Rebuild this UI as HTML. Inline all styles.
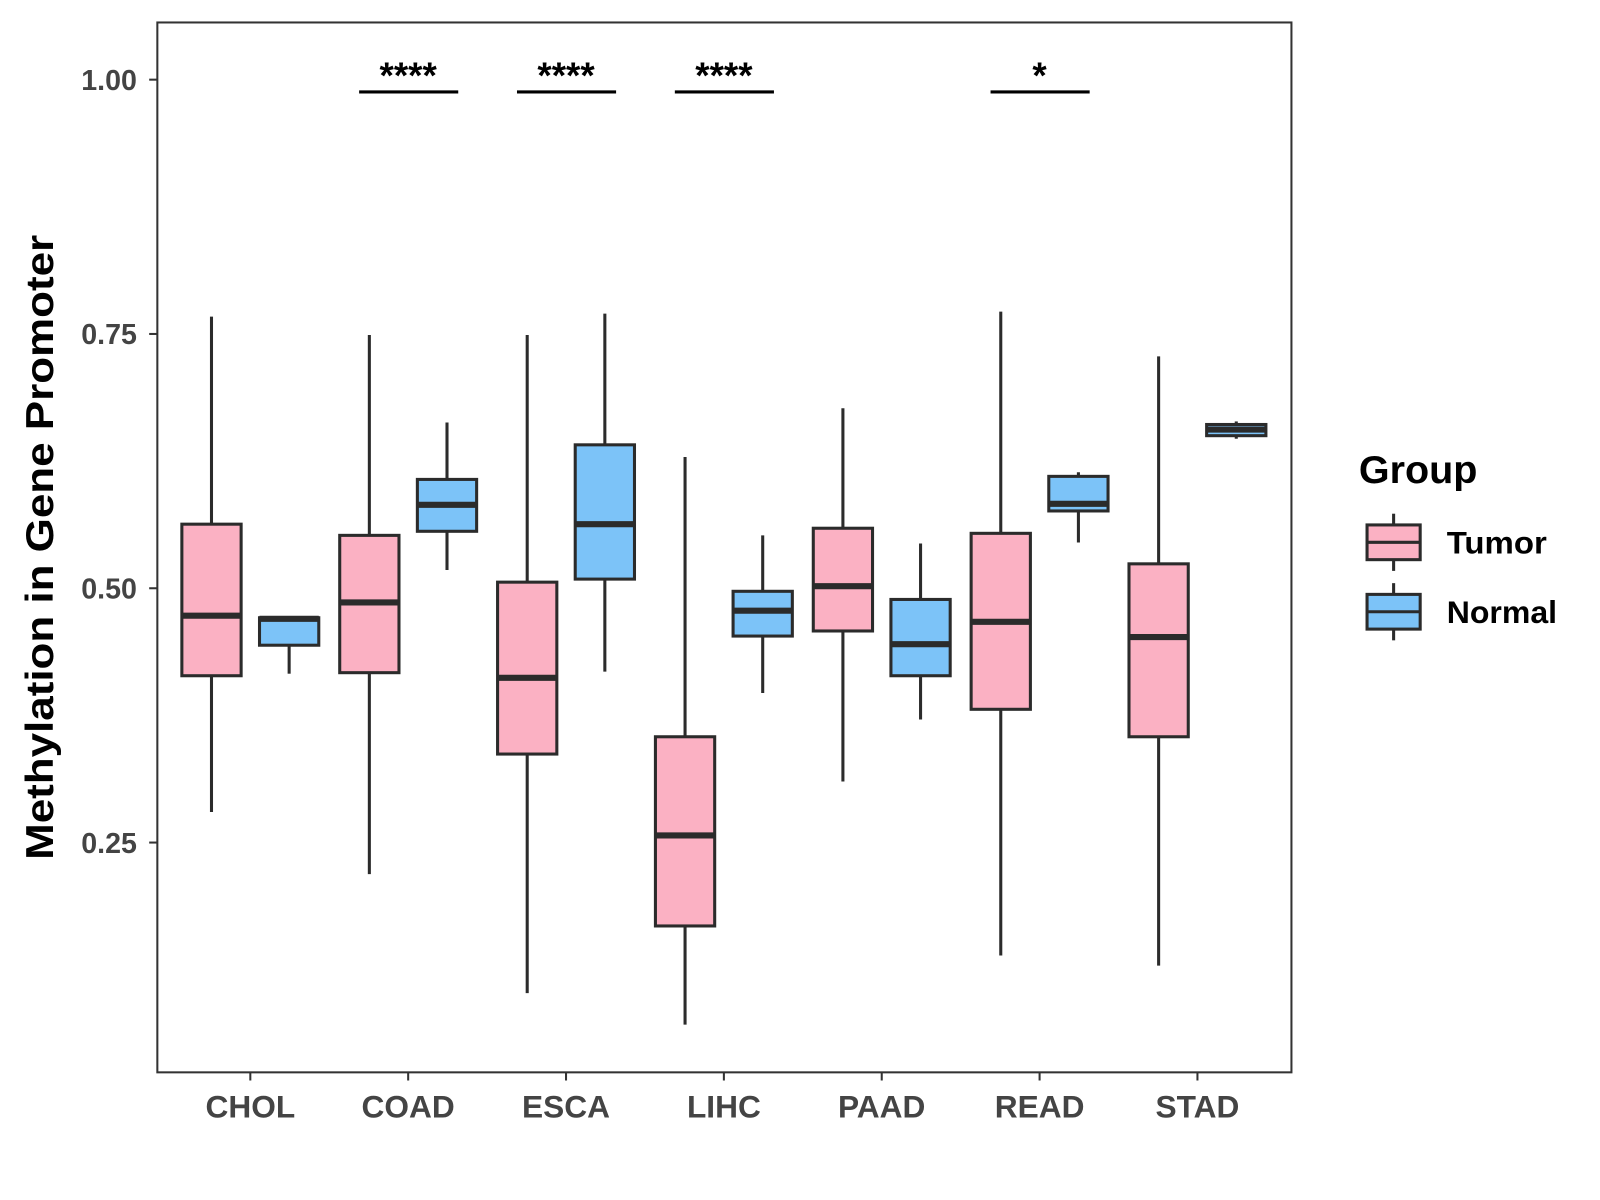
<!DOCTYPE html>
<html><head><meta charset="utf-8"><style>
html,body{margin:0;padding:0;background:#fff;}
svg{display:block;font-family:"Liberation Sans",Arial,sans-serif;}
</style></head><body>
<svg id="chart" width="1600" height="1200" viewBox="0 0 1566 1175" preserveAspectRatio="none">
<rect x="154" y="22" width="1110" height="1028" fill="#fff" stroke="#333" stroke-width="2"/>
<g id="marks"></g>
<text transform="translate(52,536) rotate(-90)" text-anchor="middle" font-size="38" font-weight="bold" fill="#000" textLength="612" lengthAdjust="spacingAndGlyphs">Methylation in Gene Promoter</text>
<g>
<text x="1330" y="473" font-size="38" font-weight="bold" fill="#000" textLength="116" lengthAdjust="spacingAndGlyphs">Group</text>
<g>
<line x1="1364" y1="503" x2="1364" y2="559" stroke="#2b2b2b" stroke-width="3"/>
<rect x="1338" y="514" width="52" height="34" fill="#fbb1c3" stroke="#2b2b2b" stroke-width="3"/>
<line x1="1338" y1="531" x2="1390" y2="531" stroke="#2b2b2b" stroke-width="3"/>
<text x="1416" y="542" font-size="31" font-weight="bold" fill="#000" textLength="98" lengthAdjust="spacingAndGlyphs">Tumor</text></g>
<g>
<line x1="1364" y1="571" x2="1364" y2="627" stroke="#2b2b2b" stroke-width="3"/>
<rect x="1338" y="582" width="52" height="34" fill="#7cc3f8" stroke="#2b2b2b" stroke-width="3"/>
<line x1="1338" y1="599" x2="1390" y2="599" stroke="#2b2b2b" stroke-width="3"/>
<text x="1416" y="610" font-size="31" font-weight="bold" fill="#000" textLength="108" lengthAdjust="spacingAndGlyphs">Normal</text></g>
</g>
</svg>
<script>
const categories = ["CHOL","COAD","ESCA","LIHC","PAAD","READ","STAD"];
// [whiskerLow, q1, median, q3, whiskerHigh]
const tumorStats = [
 [0.280,0.414,0.473,0.563,0.767],
 [0.219,0.417,0.486,0.552,0.749],
 [0.102,0.337,0.412,0.506,0.749],
 [0.071,0.168,0.257,0.354,0.629],
 [0.310,0.458,0.502,0.559,0.677],
 [0.139,0.381,0.467,0.554,0.772],
 [0.129,0.354,0.452,0.524,0.728]
];
const normalStats = [
 [0.416,0.444,0.470,0.471,0.471],
 [0.518,0.556,0.582,0.607,0.663],
 [0.418,0.509,0.563,0.641,0.770],
 [0.397,0.453,0.478,0.497,0.552],
 [0.371,0.414,0.445,0.489,0.544],
 [0.545,0.576,0.583,0.610,0.614],
 [0.647,0.650,0.656,0.661,0.664]
];
const significance = ["","****","****","****","","*",""];
const yTicks = [0.25,0.50,0.75,1.00];
const yTickLabels = ["0.25","0.50","0.75","1.00"];

const NS="http://www.w3.org/2000/svg";
const g=document.getElementById('marks');
function yScale(v){return 78+(1-v)*996;}
function xScale(i){return 245+i*154.5;}
function mk(tag,attrs){const e=document.createElementNS(NS,tag);for(const k in attrs)e.setAttribute(k,attrs[k]);g.appendChild(e);return e;}

yTicks.forEach((t,i)=>{
  const y=yScale(t);
  const tk=mk('line',{x1:146,x2:154,y1:y,y2:y,stroke:'#333','stroke-width':2});
  
  
  const tx=mk('text',{x:134,y:y+10,'text-anchor':'end','font-size':28,'font-weight':'bold',fill:'#444'});
  tx.textContent=yTickLabels[i];
  
  
});
categories.forEach((c,i)=>{
  const x=xScale(i);
  const tk=mk('line',{x1:x,x2:x,y1:1050,y2:1058,stroke:'#333','stroke-width':2});
  
  
  const tx=mk('text',{x:x,y:1094,'text-anchor':'middle','font-size':31,'font-weight':'bold',fill:'#444'});
  tx.textContent=c;
  
  
});
function drawBox(cx,s,fill,name){
  const w=29;
  const wl=mk('line',{x1:cx,x2:cx,y1:yScale(s[0]),y2:yScale(s[4]),stroke:'#2b2b2b','stroke-width':3});
  
  
  const r=mk('rect',{x:cx-w,y:yScale(s[3]),width:2*w,height:Math.max(yScale(s[1])-yScale(s[3]),1),fill:fill,stroke:'#2b2b2b','stroke-width':3});
  
  
  const m=mk('line',{x1:cx-w,x2:cx+w,y1:yScale(s[2]),y2:yScale(s[2]),stroke:'#2b2b2b','stroke-width':6});
  
  
}
categories.forEach((c,i)=>{
  const x=xScale(i);
  drawBox(x-38,tumorStats[i],'#fbb1c3',c.toLowerCase()+'-tumor');
  drawBox(x+38,normalStats[i],'#7cc3f8',c.toLowerCase()+'-normal');
  if(significance[i]){
    const l=mk('line',{x1:x-48,x2:x+49,y1:90,y2:90,stroke:'#000','stroke-width':3});
    
    
    const t=mk('text',{x:x,y:86,'text-anchor':'middle','font-size':36,'font-weight':'bold',fill:'#000'});
    t.textContent=significance[i];
    
    
  }
});
</script>
</body></html>
